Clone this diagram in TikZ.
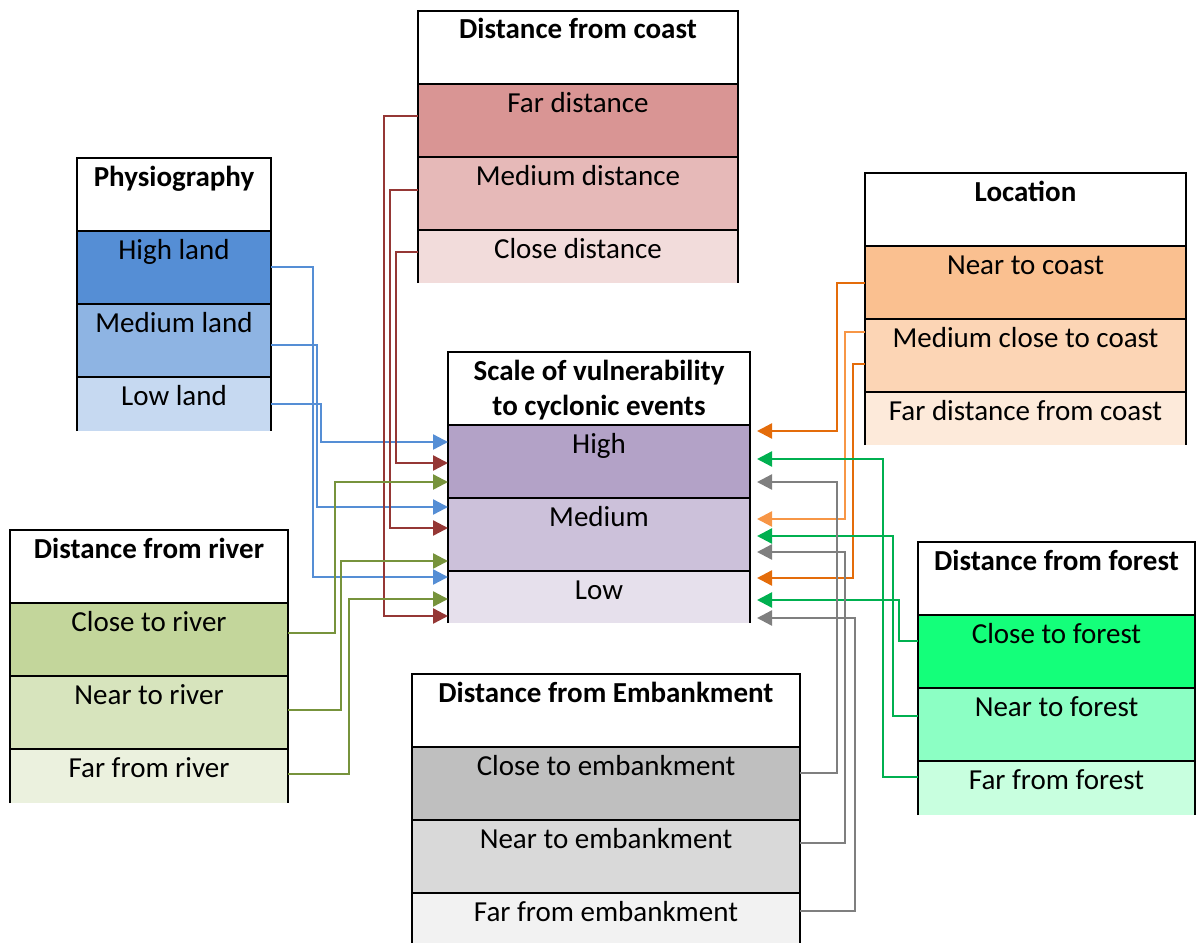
\documentclass[tikz,border=0pt]{standalone}
\usepackage{fontspec}
\setmainfont{Carlito}
\usepackage{tikz}
\usetikzlibrary{arrows.meta}

\definecolor{coastA}{HTML}{D99594}
\definecolor{coastB}{HTML}{E6B9B8}
\definecolor{coastC}{HTML}{F2DCDB}
\definecolor{physA}{HTML}{558ED5}
\definecolor{physB}{HTML}{8EB4E3}
\definecolor{physC}{HTML}{C6D9F1}
\definecolor{locA}{HTML}{FAC090}
\definecolor{locB}{HTML}{FCD5B5}
\definecolor{locC}{HTML}{FDEADA}
\definecolor{scaleA}{HTML}{B3A2C7}
\definecolor{scaleB}{HTML}{CCC1DA}
\definecolor{scaleC}{HTML}{E6E0EC}
\definecolor{riverA}{HTML}{C3D69B}
\definecolor{riverB}{HTML}{D7E4BD}
\definecolor{riverC}{HTML}{EBF1DE}
\definecolor{forestA}{HTML}{14FF7A}
\definecolor{forestB}{HTML}{8CFFC4}
\definecolor{forestC}{HTML}{C8FFDF}
\definecolor{embA}{HTML}{BFBFBF}
\definecolor{embB}{HTML}{D9D9D9}
\definecolor{embC}{HTML}{F2F2F2}
\definecolor{physline}{HTML}{558ED5}
\definecolor{coastline}{HTML}{953735}
\definecolor{riverline}{HTML}{77933C}
\definecolor{locline}{HTML}{E46C0A}
\definecolor{loclight}{HTML}{F79646}
\definecolor{forestline}{HTML}{00B050}
\definecolor{embline}{HTML}{7F7F7F}

\begin{document}
\begin{tikzpicture}
  [x=1pt,y=-1pt,
  every node/.style={font=\fontsize{29}{35}\selectfont},
  head/.style={rectangle,draw=black,fill=white,line width=2pt,inner sep=0,
                  outer sep=0,text height=28pt,text depth=45pt,
                  font=\fontsize{29}{35}\selectfont\bfseries},
  cell/.style={rectangle,draw=black,line width=2pt,inner sep=0,
                  outer sep=0,text height=28pt,text depth=45pt},
  lastcell/.style={rectangle,inner sep=0,outer sep=0,text height=28pt},
  frame/.style={draw=black,line width=2pt},
  link/.style={line width=2.4pt,-{Triangle[length=15pt,width=15pt]}},
  backlink/.style={link,shorten >=7pt}
  ]
  \useasboundingbox (0,0) rectangle (1196,942);

  \node[head,minimum width=320pt] (coasthead) at (578,47.5) {Distance from coast};
  \node[cell,fill=coastA,minimum width=320pt] (fardist) at (578,120.5) {Far distance};
  \node[cell,fill=coastB,minimum width=320pt] (meddist) at (578,193.5) {Medium distance};
  \node[lastcell,fill=coastC,minimum width=320pt,text depth=25pt] (closedist) at (578,256.5) {Close distance};

  \node[head,minimum width=194pt] (physhead) at (174,194.5) {Physiography};
  \node[cell,fill=physA,minimum width=194pt] (highland) at (174,267.5) {High land};
  \node[cell,fill=physB,minimum width=194pt] (medland) at (174,340.5) {Medium land};
  \node[lastcell,fill=physC,minimum width=194pt,text depth=26pt] (lowland) at (174,404) {Low land};

  \node[head,minimum width=321pt] (lochead) at (1025.5,209.5) {Location};
  \node[cell,fill=locA,minimum width=321pt] (nearcoast) at (1025.5,282.5) {Near to coast};
  \node[cell,fill=locB,minimum width=321pt] (medcoast) at (1025.5,355.5) {Medium close to coast};
  \node[lastcell,fill=locC,minimum width=321pt,text depth=25pt] (farcoast) at (1025.5,418.5) {Far distance from coast};

  \node[head,minimum width=302pt] (scalehead) at (599,388.5)
    {\begin{tabular}[t]{@{}c@{}}Scale of vulnerability\\to cyclonic events\end{tabular}};
  \node[cell,fill=scaleA,minimum width=302pt] (high) at (599,461.5) {High};
  \node[cell,fill=scaleB,minimum width=302pt] (medium) at (599,534.5) {Medium};
  \node[lastcell,fill=scaleC,minimum width=302pt,text depth=24pt] (low) at (599,597) {Low};

  \node[head,minimum width=278pt] (riverhead) at (149,566.5) {Distance from river};
  \node[cell,fill=riverA,minimum width=278pt] (closeriver) at (149,639.5) {Close to river};
  \node[cell,fill=riverB,minimum width=278pt] (nearriver) at (149,712.5) {Near to river};
  \node[lastcell,fill=riverC,minimum width=278pt,text depth=26pt] (farriver) at (149,776) {Far from river};

  \node[head,minimum width=277pt] (foresthead) at (1056.5,578.5) {Distance from forest};
  \node[cell,fill=forestA,minimum width=277pt] (closeforest) at (1056.5,651.5) {Close to forest};
  \node[cell,fill=forestB,minimum width=277pt] (nearforest) at (1056.5,724.5) {Near to forest};
  \node[lastcell,fill=forestC,minimum width=277pt,text depth=26pt] (farforest) at (1056.5,788) {Far from forest};

  \node[head,minimum width=388pt] (embhead) at (606,710.5) {Distance from Embankment};
  \node[cell,fill=embA,minimum width=388pt] (closeemb) at (606,783.5) {Close to embankment};
  \node[cell,fill=embB,minimum width=388pt] (nearemb) at (606,856.5) {Near to embankment};
  \node[lastcell,fill=embC,minimum width=388pt,text depth=22pt] (faremb) at (606,918) {Far from embankment};

%  open bottom rows
  \draw[frame] (closedist.south west) -- (closedist.north west) -- (closedist.north east) -- (closedist.south east);
  \draw[frame] (lowland.south west) -- (lowland.north west) -- (lowland.north east) -- (lowland.south east);
  \draw[frame] (farcoast.south west) -- (farcoast.north west) -- (farcoast.north east) -- (farcoast.south east);
  \draw[frame] (low.south west) -- (low.north west) -- (low.north east) -- (low.south east);
  \draw[frame] (farriver.south west) -- (farriver.north west) -- (farriver.north east) -- (farriver.south east);
  \draw[frame] (farforest.south west) -- (farforest.north west) -- (farforest.north east) -- (farforest.south east);
  \draw[frame] (faremb.south west) -- (faremb.north west) -- (faremb.north east) -- (faremb.south east);

  \coordinate (ph1) at (313,267);
  \coordinate (ph2) at (313,577);
  \coordinate (ph3) at (317,345);
  \coordinate (ph4) at (317,507);
  \coordinate (ph5) at (321,404);
  \coordinate (ph6) at (321,442);
  \coordinate (co1) at (384,116);
  \coordinate (co2) at (384,616);
  \coordinate (co3) at (390,190);
  \coordinate (co4) at (390,528);
  \coordinate (co5) at (396,252);
  \coordinate (co6) at (396,463);
  \coordinate (ri1) at (335,633);
  \coordinate (ri2) at (335,482);
  \coordinate (ri3) at (341,710);
  \coordinate (ri4) at (341,561);
  \coordinate (ri5) at (349,774);
  \coordinate (ri6) at (349,599);
  \coordinate (lo1) at (837,283);
  \coordinate (lo2) at (837,431);
  \coordinate (lo3) at (845,332);
  \coordinate (lo4) at (845,519);
  \coordinate (lo5) at (853,364);
  \coordinate (lo6) at (853,578);
  \coordinate (fo1) at (899,641);
  \coordinate (fo2) at (899,600);
  \coordinate (fo3) at (893,716);
  \coordinate (fo4) at (893,536);
  \coordinate (fo5) at (883,777);
  \coordinate (fo6) at (883,459);
  \coordinate (em1) at (837,773);
  \coordinate (em2) at (837,482);
  \coordinate (em3) at (845,843);
  \coordinate (em4) at (845,552);
  \coordinate (em5) at (855,911);
  \coordinate (em6) at (855,618);

  \draw[link,physline] (highland.east |- ph1) -- (ph1) -- (ph2) -- (low.west |- ph2);
  \draw[link,physline] (medland.east |- ph3) -- (ph3) -- (ph4) -- (medium.west |- ph4);
  \draw[link,physline] (lowland.east |- ph5) -- (ph5) -- (ph6) -- (high.west |- ph6);
  \draw[link,coastline] (fardist.west |- co1) -- (co1) -- (co2) -- (low.west |- co2);
  \draw[link,coastline] (meddist.west |- co3) -- (co3) -- (co4) -- (medium.west |- co4);
  \draw[link,coastline] (closedist.west |- co5) -- (co5) -- (co6) -- (high.west |- co6);
  \draw[link,riverline] (closeriver.east |- ri1) -- (ri1) -- (ri2) -- (high.west |- ri2);
  \draw[link,riverline] (nearriver.east |- ri3) -- (ri3) -- (ri4) -- (medium.west |- ri4);
  \draw[link,riverline] (farriver.east |- ri5) -- (ri5) -- (ri6) -- (low.west |- ri6);
  \draw[backlink,locline] (nearcoast.west |- lo1) -- (lo1) -- (lo2) -- (high.east |- lo2);
  \draw[backlink,loclight] (medcoast.west |- lo3) -- (lo3) -- (lo4) -- (medium.east |- lo4);
  \draw[backlink,locline] (medcoast.west |- lo5) -- (lo5) -- (lo6) -- (low.east |- lo6);
  \draw[backlink,forestline] (closeforest.west |- fo1) -- (fo1) -- (fo2) -- (low.east |- fo2);
  \draw[backlink,forestline] (nearforest.west |- fo3) -- (fo3) -- (fo4) -- (medium.east |- fo4);
  \draw[backlink,forestline] (farforest.west |- fo5) -- (fo5) -- (fo6) -- (high.east |- fo6);
  \draw[backlink,embline] (closeemb.east |- em1) -- (em1) -- (em2) -- (high.east |- em2);
  \draw[backlink,embline] (nearemb.east |- em3) -- (em3) -- (em4) -- (medium.east |- em4);
  \draw[backlink,embline] (faremb.east |- em5) -- (em5) -- (em6) -- (low.east |- em6);
\end{tikzpicture}
\end{document}
